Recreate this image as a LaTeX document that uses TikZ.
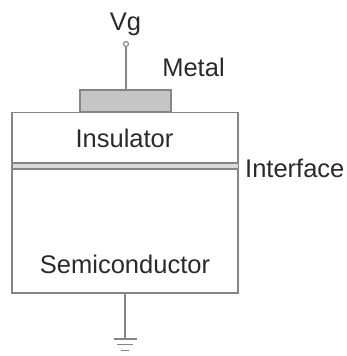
\documentclass[tikz,border=0pt]{standalone}
\usepackage{fontspec}
\setmainfont{Liberation Sans}
\definecolor{linegray}{HTML}{858585}
\definecolor{textgray}{HTML}{2A2A2A}
\definecolor{metalgray}{HTML}{C6C6C6}
\definecolor{bandgray}{HTML}{DADADA}
\tikzset{
  part/.style={draw=linegray, line width=1.1pt, inner sep=0pt, outer sep=0pt},
  wire/.style={draw=linegray, line width=1.1pt},
  lbl/.style={text=textgray, font=\fontsize{25.5}{29}\selectfont, inner sep=0pt, anchor=base}
}
\begin{document}
\begin{tikzpicture}[x=1pt,y=-1pt]
\useasboundingbox (0,0) rectangle (346,356);
% main body
\node[part, rectangle, minimum width=226pt, minimum height=180.5pt] (body) at (125,202.75) {};
% metal gate
\node[part, rectangle, fill=metalgray, minimum width=91pt, minimum height=22pt] (metal) at (125.5,101) {};
% terminal
\node[part, circle, minimum size=5pt, fill=white] (term) at (126,44) {};
\draw[wire] (term.south) -- (term.south |- metal.north);
% interface band
\fill[bandgray] (12.5,163) rectangle (237.5,169);
\draw[wire] (12.5,163) -- (237.5,163);
\draw[wire] (12.5,169) -- (237.5,169);
% ground
\coordinate (gnd) at (125,339);
\draw[wire] (body.south -| gnd) -- (gnd);
\draw[wire] (113.5,339) -- (136.5,339);
\draw[wire] (117,344.5) -- (133,344.5);
\draw[wire] (121,350.5) -- (129,350.5);
% labels
\node[lbl] (vg) at (125.5,30) {Vg};
\node[lbl] (metallbl) at (193.5,76) {Metal};
\node[lbl] (ins) at (124.5,147) {Insulator};
\node[lbl, anchor=base west] (intf) at (245,177) {Interface};
\node[lbl] (semi) at (125,273) {Semiconductor};
\end{tikzpicture}
\end{document}
